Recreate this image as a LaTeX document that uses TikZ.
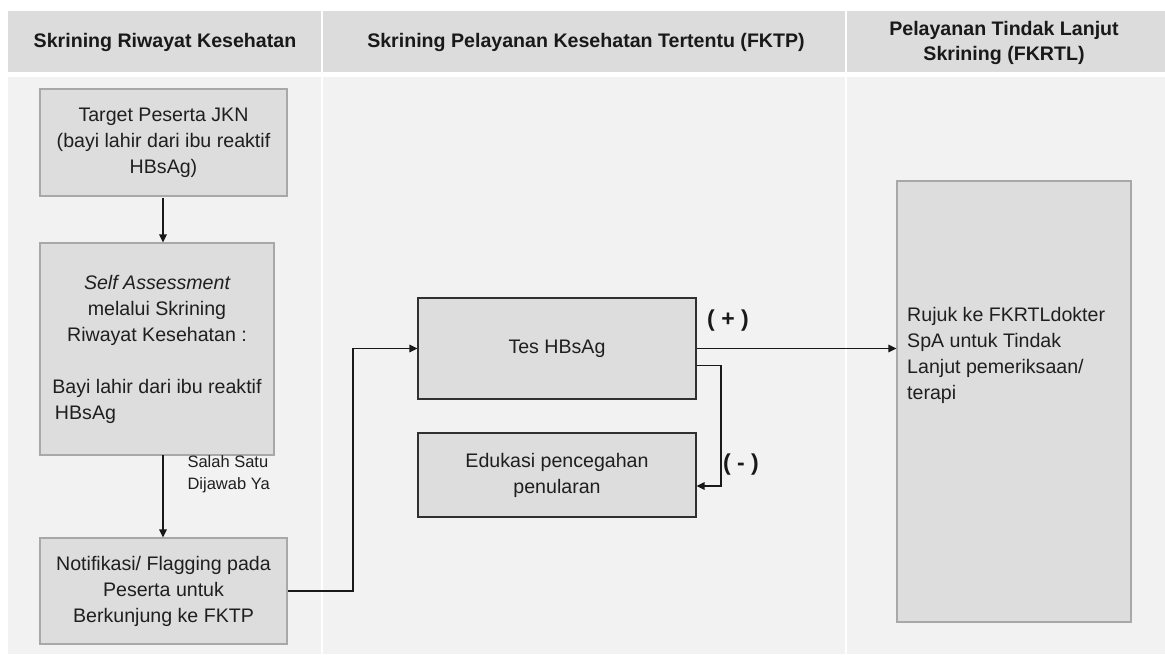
\documentclass[tikz,border=0pt]{standalone}
\usepackage{fontspec}
\setmainfont{Liberation Sans}
\usetikzlibrary{arrows.meta,calc}

\definecolor{headfill}{HTML}{DCDCDC}
\definecolor{bodyfill}{HTML}{F2F2F2}
\definecolor{boxfill}{HTML}{DDDDDD}
\definecolor{softline}{HTML}{A8A8A8}
\definecolor{darkline}{HTML}{303030}

\tikzset{
  headcell/.style={fill=headfill, draw=none},
  bodycell/.style={fill=bodyfill, draw=none},
  headtext/.style={font=\fontsize{19.6}{25}\selectfont\bfseries, align=center, text=black!90},
  stepbox/.style={rectangle, fill=boxfill, draw=softline, line width=1.2pt, inner sep=0pt,
    align=center, font=\fontsize{19.6}{26}\selectfont, text=black!88},
  testbox/.style={stepbox, draw=darkline},
  flow/.style={draw=black!90, line width=1.4pt, -{Triangle[length=8pt,width=7.5pt]}},
  signlabel/.style={font=\fontsize{23}{26}\selectfont\bfseries, text=black!90},
  smalllabel/.style={font=\fontsize{16.5}{22}\selectfont, align=left, text=black!88, anchor=west}
}

\begin{document}
\begin{tikzpicture}[x=1pt, y=-1pt]
\useasboundingbox (0,0) rectangle (1165,654);
\fill[white] (0,0) rectangle (1165,654);

% column headers
\fill[headcell] (8,11) rectangle (321,72);
\fill[headcell] (323,11) rectangle (845,72);
\fill[headcell] (847,11) rectangle (1165,72);
% column bodies
\fill[bodycell] (8,77) rectangle (321,654);
\fill[bodycell] (323,77) rectangle (845,654);
\fill[bodycell] (847,77) rectangle (1165,654);

\node[headtext] (h1) at (165,42) {Skrining Riwayat Kesehatan};
\node[headtext] (h2) at (586,42) {Skrining Pelayanan Kesehatan Tertentu (FKTP)};
\node[headtext] (h3) at (1004,43) {Pelayanan Tindak Lanjut\\Skrining (FKRTL)};

% process boxes
\node[stepbox, minimum width=247pt, minimum height=107pt] (target) at (163.5,142.5)
  {Target Peserta JKN\\(bayi lahir dari ibu reaktif\\HBsAg)};
\node[stepbox, minimum width=234pt, minimum height=212pt] (self) at (157,349)
  {\itshape Self Assessment\\melalui Skrining\\Riwayat Kesehatan :\\[26pt]Bayi lahir dari ibu reaktif\\HBsAg\hspace*{143pt}};
\node[stepbox, minimum width=247pt, minimum height=106pt] (notif) at (163.5,591)
  {Notifikasi/ Flagging pada\\Peserta untuk\\Berkunjung ke FKTP};
\node[testbox, minimum width=278pt, minimum height=101pt] (tes) at (557,348.5)
  {Tes HBsAg};
\node[testbox, minimum width=278pt, minimum height=84pt] (edu) at (557,475)
  {Edukasi pencegahan\\penularan};
\node[stepbox, minimum width=234pt, minimum height=441pt] (rujuk) at (1014,401.5) {};
\node[font=\fontsize{19.6}{26}\selectfont, align=left, anchor=north west, inner sep=0pt, text=black!88]
  (rujuktext) at (907,307) {Rujuk ke FKRTLdokter\\SpA untuk Tindak\\Lanjut pemeriksaan/\\terapi};

% connectors
\coordinate (t1) at (163,198);
\draw[flow] (t1) -- (t1 |- self.north);
\coordinate (t2) at (163,455);
\draw[flow] (t2) -- (t2 |- notif.north);
\node[smalllabel] (ya) at (184,474) {Salah Satu\\Dijawab Ya};

\coordinate (bend) at (353,591);
\draw[flow] (notif.east |- bend) -- (bend) |- (tes.west);

\draw[flow] (tes.east) -- (tes.east -| rujuk.west);
\node[signlabel] (pos) at (728,321) {( + )};

\coordinate (negstart) at ($(tes.east)+(0,17)$);
\coordinate (negturn) at (721,365.5);
\draw[flow] (negstart) -- (negturn) |- ($(edu.east)+(0,11)$);
\node[signlabel] (neg) at (741,465) {( - )};
\end{tikzpicture}
\end{document}
